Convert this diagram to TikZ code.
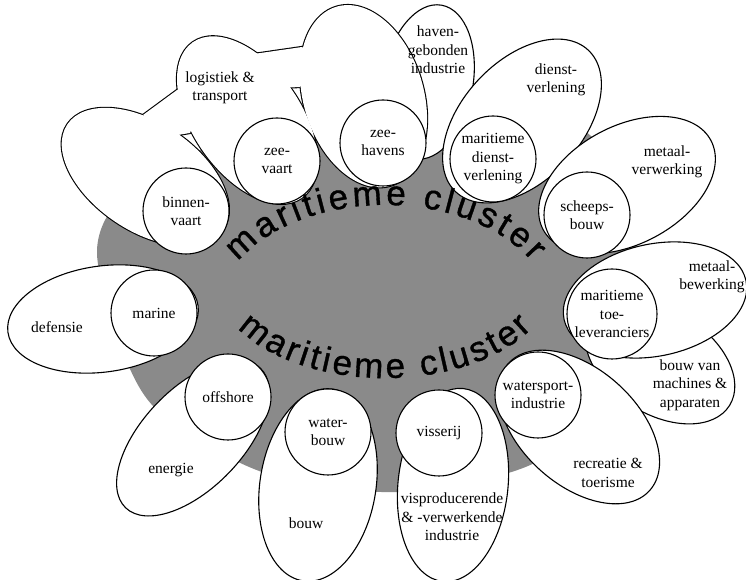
\documentclass[tikz,border=0pt]{standalone}
\usepackage{fontspec}
\setmainfont{Liberation Serif}
\newfontfamily\clusterfont[FakeBold=1]{Liberation Sans}
\usetikzlibrary{decorations.text}
\definecolor{clustergrey}{HTML}{8A8A8A}
\newcommand{\sectorfont}{\fontsize{15.5}{18.5}\selectfont}
% the three merged petals of logistiek & transport
\newcommand{\logisticsparts}[1]{%
  \foreach \cx/\cy/\a/\b/\ang in {145.3/403.1/94/54/-34,247.2/459.9/95/54/125,363.5/483.8/93.5/60/107}
    \path[#1,shift={(\cx,\cy)},rotate=\ang] (0,0) ellipse [x radius=\a,y radius=\b];
  \path[#1] (143,465) -- (177,490) -- (205,485) -- (190,447) -- (178,445) -- (160,452) -- cycle;
  \path[#1] (257,526.5) -- (302,533) -- (320,515) -- (300,493) -- (290,492.5) -- (272,505) -- cycle;
}

\begin{document}
\begin{tikzpicture}[x=1pt,y=1pt,line width=1.1pt,line join=round,
  sector/.style={draw,fill=white,circle,minimum size=86pt,inner sep=0pt,
    align=center,font=\sectorfont},
  lab/.style={align=center,inner sep=0pt,font=\sectorfont},
  arctext/.style={decorate,decoration={text along path,text align=fit to path,
    text={|\clusterfont\fontsize{35}{35}\selectfont|maritieme cluster}}}
]
\useasboundingbox (0,0) rectangle (746,580);

% grey core
\fill[clustergrey] plot[smooth cycle] coordinates {(97,330) (120,380) (200,430)
  (300,455) (420,485) (520,480) (595,440) (630,360) (640,280) (600,210)
  (540,120) (400,88) (262,108) (155,172) (115,250)};

% outer petals
\foreach \cx/\cy/\a/\b/\ang in {428/498/78/45/80,522/459/97/60/47,627/395/95/59/28,
  660/218/82/52/-32,655/280/93/56/12,579/153/95/58/-42,453/95/97/55/84,
  318/95/97/58/81,193/142/97/50/46,103/261/96/53/8}
  \draw[fill=white,shift={(\cx,\cy)},rotate=\ang] (0,0) ellipse [x radius=\a,y radius=\b];

\logisticsparts{draw,line width=2.2pt}
\logisticsparts{fill=white}

\path[arctext] (385,265) ++(151:168 and 110)
  arc [start angle=151,end angle=29,x radius=168,y radius=110];
\path[arctext] (385,302) ++(210:170 and 100)
  arc [start angle=210,end angle=330,x radius=170,y radius=100];

% inner sectors
\node[sector] (binnenvaart) at (186,369) {binnen-\\vaart};
\node[sector] (zeevaart) at (277,419) {zee-\\vaart};
\node[sector] (zeehavens) at (383,437) {zee-\\havens};
\node[sector] (mardienst) at (493,421) {maritieme\\dienst-\\verlening};
\node[sector] (scheepsbouw) at (587,365) {scheeps-\\bouw};
\node[sector,minimum size=90pt] (toelev) at (612,266) {maritieme\\toe-\\leveranciers};
\node[sector] (watersport) at (538,185) {watersport-\\industrie};
\node[sector] (visserij) at (439,147) {visserij};
\node[sector] (waterbouw) at (328,148) {water-\\bouw};
\node[sector] (offshore) at (228,183) {offshore};
\node[sector] (marine) at (154,267) {marine};

% outer labels
\node[lab] (logistiek) at (220,492) {logistiek \&\\transport};
\node[lab] (haven) at (438,530) {haven-\\gebonden\\industrie};
\node[lab] (dienst) at (556,500) {dienst-\\verlening};
\node[lab] (metaalverw) at (667,418) {metaal-\\verwerking};
\node[lab] (metaalbew) at (712,303) {metaal-\\bewerking};
\node[lab] (machines) at (690,195) {bouw van\\machines \&\\apparaten};
\node[lab] (recreatie) at (608,107) {recreatie \&\\toerisme};
\node[lab] (vispro) at (452,63) {visproducerende\\\& -verwerkende\\industrie};
\node[lab] (bouw) at (306,57) {bouw};
\node[lab] (energie) at (171,110) {energie};
\node[lab] (defensie) at (57,253) {defensie};
\end{tikzpicture}
\end{document}
